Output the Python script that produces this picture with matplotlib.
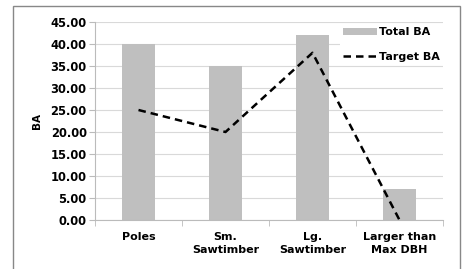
import matplotlib.pyplot as plt
import numpy as np
from matplotlib.patches import Rectangle

categories = ["Poles", "Sm.\nSawtimber", "Lg.\nSawtimber", "Larger than\nMax DBH"]
total_ba = [40, 35, 42, 7]
target_ba = [25, 20, 38, 0]
yticks = np.arange(0, 50, 5)

W, H = 465, 269
fig = plt.figure(figsize=(W / 100, H / 100), dpi=100)
plt.rcParams["font.family"] = ["DejaVu Sans"]

# outer chart frame
fig.patches.append(Rectangle((13 / W, -0.1), 447 / W, 1.1 - 6 / H,
                             transform=fig.transFigure, fill=False,
                             edgecolor="#888888", linewidth=1))

ax = fig.add_axes([95 / W, 1 - 220 / H, 348 / W, 198 / H])
x = np.arange(len(categories))
bars = ax.bar(x, total_ba, width=0.39, color="#bfbfbf", label="Total BA", zorder=2)
line, = ax.plot(x, target_ba, color="black", linestyle="--", linewidth=1.8,
                dashes=(3, 2), label="Target BA", zorder=3)

ax.set_xlim(-0.5, 3.5)
ax.set_ylim(0, 45)
ax.set_yticks(yticks)
ax.set_yticklabels([f"{v:.2f}" for v in yticks], fontsize=8.3, fontweight="bold")
ax.set_xticks(x)
ax.set_xticklabels(categories, fontsize=8, fontweight="bold", linespacing=1.3)
ax.set_xticks(np.arange(-0.5, 4, 1), minor=True)
ax.tick_params(axis="x", which="major", length=0, pad=9)
ax.tick_params(axis="x", which="minor", length=4, color="#bbbbbb")
ax.tick_params(axis="y", length=4, color="#bbbbbb", pad=2)
ax.grid(axis="y", color="#d9d9d9", linewidth=0.8, zorder=0)
ax.set_axisbelow(True)
for s in ["top", "right"]:
    ax.spines[s].set_visible(False)
ax.spines["left"].set_color("#bbbbbb")
ax.spines["bottom"].set_color("#bbbbbb")
ax.set_ylabel("BA", fontsize=7.5, fontweight="bold", labelpad=6)

leg = ax.legend([bars, line], ["Total BA", "Target BA"], loc="upper right",
                bbox_to_anchor=(1.0, 0.99), frameon=True,
                facecolor="white", edgecolor="white", framealpha=1,
                prop={"size": 8, "weight": "bold"}, handlelength=3.0,
                handleheight=0.6, handletextpad=0.2, borderaxespad=0,
                labelspacing=1.3, borderpad=0.3)
leg.get_frame().set_linewidth(0)

fig.savefig("out.png", dpi=100)
